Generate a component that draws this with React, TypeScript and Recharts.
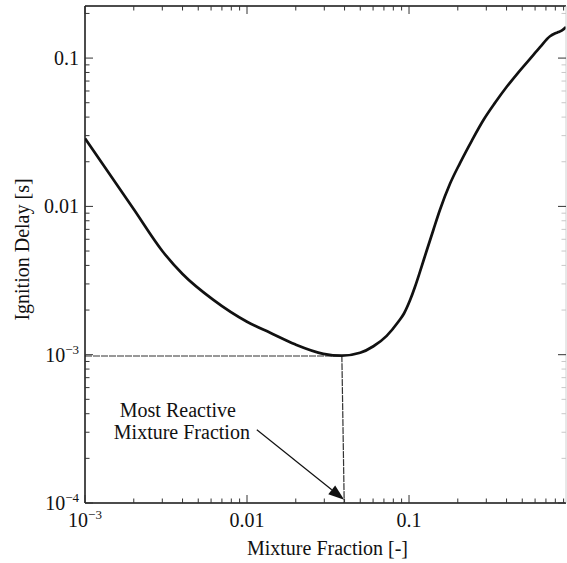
import { LineChart, Line, XAxis, YAxis, ReferenceLine, Label } from 'recharts'

// ignition delay vs. mixture fraction (log-log)
const mixtureFraction = [
  0.001, 0.002, 0.003, 0.004, 0.0062, 0.01, 0.0139, 0.0198, 0.0296, 0.0385,
  0.0499, 0.0603, 0.0728, 0.0859, 0.0931, 0.1014, 0.1089, 0.1169, 0.1286,
  0.1413, 0.1553, 0.179, 0.2064, 0.2448, 0.2874, 0.3396, 0.401, 0.4709,
  0.5582, 0.6435, 0.742, 0.8, 0.836, 0.88, 0.931,
]
const ignitionDelay = [
  0.0287, 0.00955, 0.005, 0.0035, 0.00234, 0.001667, 0.001405, 0.001175,
  0.001014, 0.000985, 0.00103, 0.00114, 0.00134, 0.001667, 0.001896, 0.002327,
  0.002873, 0.003633, 0.005043, 0.006934, 0.009487, 0.0142, 0.01959, 0.02791,
  0.03808, 0.04996, 0.06404, 0.07962, 0.0989, 0.1186, 0.1403, 0.1469, 0.1497,
  0.154, 0.1618,
]

// guide from the minimum down to the axis
const guideZ = [0.001, 0.0385, 0.0398]
const guideTau = [0.00098, 0.00098, 0.0001]

// annotation arrow: tail, head
const arrowZ = [0.0115, 0.0398]
const arrowTau = [0.000312, 0.000105]

const xMajorTicks = [0.001, 0.01, 0.1]
const xMinorTicks = [
  0.002, 0.003, 0.004, 0.005, 0.006, 0.007, 0.008, 0.009,
  0.02, 0.03, 0.04, 0.05, 0.06, 0.07, 0.08, 0.09,
  0.2, 0.3, 0.4, 0.5, 0.6, 0.7, 0.8, 0.9,
]
const xTickLabels = [
  { base: '10', sup: '\u22123' },
  { base: '0.01', sup: '' },
  { base: '0.1', sup: '' },
]

const yMajorTicks = [0.0001, 0.001, 0.01, 0.1]
const yMinorTicks = [
  0.0002, 0.0003, 0.0004, 0.0005, 0.0006, 0.0007, 0.0008, 0.0009,
  0.002, 0.003, 0.004, 0.005, 0.006, 0.007, 0.008, 0.009,
  0.02, 0.03, 0.04, 0.05, 0.06, 0.07, 0.08, 0.09, 0.2,
]
const yTickLabels = [
  { base: '10', sup: '\u22124' },
  { base: '10', sup: '\u22123' },
  { base: '0.01', sup: '' },
  { base: '0.1', sup: '' },
]

const X_DOMAIN: [number, number] = [0.001, 0.931]
const Y_DOMAIN: [number, number] = [0.0001, 0.2245]

const FONT = '"Liberation Serif", "Times New Roman", serif'
const INK = '#111'

const curve = mixtureFraction.map((z, i) => ({ z, tau: ignitionDelay[i] }))
const guide = guideZ.map((z, i) => ({ z, tau: guideTau[i] }))

const xTicks = [...xMajorTicks, ...xMinorTicks].sort((a, b) => a - b)
const yTicks = [...yMajorTicks, ...yMinorTicks].sort((a, b) => a - b)

function TickText({ x, y, anchor, label }: any) {
  return (
    <text x={x} y={y} textAnchor={anchor} fontFamily={FONT} fontSize={20} fill={INK}>
      {label.base}
      {label.sup && (
        <tspan dy={-8} fontSize={13}>
          {label.sup}
        </tspan>
      )}
    </text>
  )
}

// inward tick marks, labels only on the bottom / left sides
function makeTick(side: 'bottom' | 'top' | 'left' | 'right', color: string) {
  return function Tick({ x, y, payload }: any) {
    const v = payload.value
    const isX = side === 'bottom' || side === 'top'
    const majors = isX ? xMajorTicks : yMajorTicks
    const mi = majors.indexOf(v)
    const len = mi >= 0 ? 8 : 4.5
    let x2 = x
    let y2 = y
    if (side === 'bottom') y2 = y - len
    if (side === 'top') y2 = y + len
    if (side === 'left') x2 = x + len
    if (side === 'right') x2 = x - len
    const stroke = mi >= 0 ? '#333' : color
    return (
      <g>
        <line x1={x} y1={y} x2={x2} y2={y2} stroke={stroke} strokeWidth={1} />
        {mi >= 0 && side === 'bottom' && (
          <TickText x={x} y={y + 24} anchor="middle" label={xTickLabels[mi]} />
        )}
        {mi >= 0 && side === 'left' && (
          <TickText x={x - 6} y={y + 7} anchor="end" label={yTickLabels[mi]} />
        )}
      </g>
    )
  }
}

const BottomTick = makeTick('bottom', '#333')
const TopTick = makeTick('top', '#333')
const LeftTick = makeTick('left', '#333')
const RightTick = makeTick('right', '#c8c8c8')

function AnnotationArrow({ x1, y1, x2, y2 }: any) {
  const ang = Math.atan2(y2 - y1, x2 - x1)
  const headLen = 16
  const headHalf = 5.5
  const bx = x2 - headLen * Math.cos(ang)
  const by = y2 - headLen * Math.sin(ang)
  const px = -Math.sin(ang) * headHalf
  const py = Math.cos(ang) * headHalf
  return (
    <g>
      <line x1={x1} y1={y1} x2={bx} y2={by} stroke={INK} strokeWidth={1.2} />
      <polygon points={`${x2},${y2} ${bx + px},${by + py} ${bx - px},${by - py}`} fill={INK} />
      <text fontFamily={FONT} fontSize={20} fill={INK} textAnchor="middle">
        <tspan x={x1 - 79} y={y1 - 13}>Most Reactive</tspan>
        <tspan x={x1 - 75} y={y1 + 9}>Mixture Fraction</tspan>
      </text>
    </g>
  )
}

export default function App() {
  return (
    <div style={{ position: 'absolute', left: 0, top: 0, background: '#fff' }}>
      <LineChart width={567} height={563} margin={{ top: 5, right: 0, bottom: 59, left: 84 }}>
        <XAxis
          dataKey="z"
          type="number"
          scale="log"
          domain={X_DOMAIN}
          allowDataOverflow
          ticks={xTicks}
          interval={0}
          height={1}
          tickSize={0}
          tickMargin={0}
          tickLine={false}
          tick={<BottomTick />}
          axisLine={{ stroke: INK, strokeWidth: 1.5 }}
        >
          <Label
            content={({ viewBox }: any) => (
              <text
                x={viewBox.x + viewBox.width / 2 + 2}
                y={viewBox.y + 52}
                textAnchor="middle"
                fontFamily={FONT}
                fontSize={20}
                fill={INK}
              >
                Mixture Fraction [-]
              </text>
            )}
          />
        </XAxis>
        <XAxis
          xAxisId="top"
          orientation="top"
          dataKey="z"
          type="number"
          scale="log"
          domain={X_DOMAIN}
          allowDataOverflow
          ticks={xTicks}
          interval={0}
          height={1}
          tickSize={0}
          tickMargin={0}
          tickLine={false}
          tick={<TopTick />}
          axisLine={{ stroke: INK, strokeWidth: 1.5 }}
        />
        <YAxis
          dataKey="tau"
          type="number"
          scale="log"
          domain={Y_DOMAIN}
          allowDataOverflow
          ticks={yTicks}
          interval={0}
          width={1}
          tickSize={0}
          tickMargin={0}
          tickLine={false}
          tick={<LeftTick />}
          axisLine={{ stroke: INK, strokeWidth: 1.5 }}
        >
          <Label
            content={({ viewBox }: any) => {
              const cx = 29
              const cy = viewBox.y + viewBox.height / 2 - 5
              return (
                <text
                  x={cx}
                  y={cy}
                  transform={`rotate(-90, ${cx}, ${cy})`}
                  textAnchor="middle"
                  fontFamily={FONT}
                  fontSize={20}
                  fill={INK}
                >
                  Ignition Delay [s]
                </text>
              )
            }}
          />
        </YAxis>
        <YAxis
          yAxisId="right"
          orientation="right"
          dataKey="tau"
          type="number"
          scale="log"
          domain={Y_DOMAIN}
          allowDataOverflow
          ticks={yTicks}
          interval={0}
          width={1}
          tickSize={0}
          tickMargin={0}
          tickLine={false}
          tick={<RightTick />}
          axisLine={{ stroke: '#d0d0d0', strokeWidth: 1 }}
        />

        <Line
          data={guide}
          dataKey="tau"
          type="linear"
          stroke="#333"
          strokeWidth={1.2}
          strokeDasharray="7 1"
          dot={false}
          activeDot={false}
          isAnimationActive={false}
        />
        <Line
          data={curve}
          dataKey="tau"
          type="monotone"
          stroke={INK}
          strokeWidth={2.7}
          dot={false}
          activeDot={false}
          isAnimationActive={false}
        />
        <ReferenceLine
          segment={[
            { x: arrowZ[0], y: arrowTau[0] },
            { x: arrowZ[1], y: arrowTau[1] },
          ]}
          ifOverflow="visible"
          shape={<AnnotationArrow />}
        />
      </LineChart>
    </div>
  )
}
